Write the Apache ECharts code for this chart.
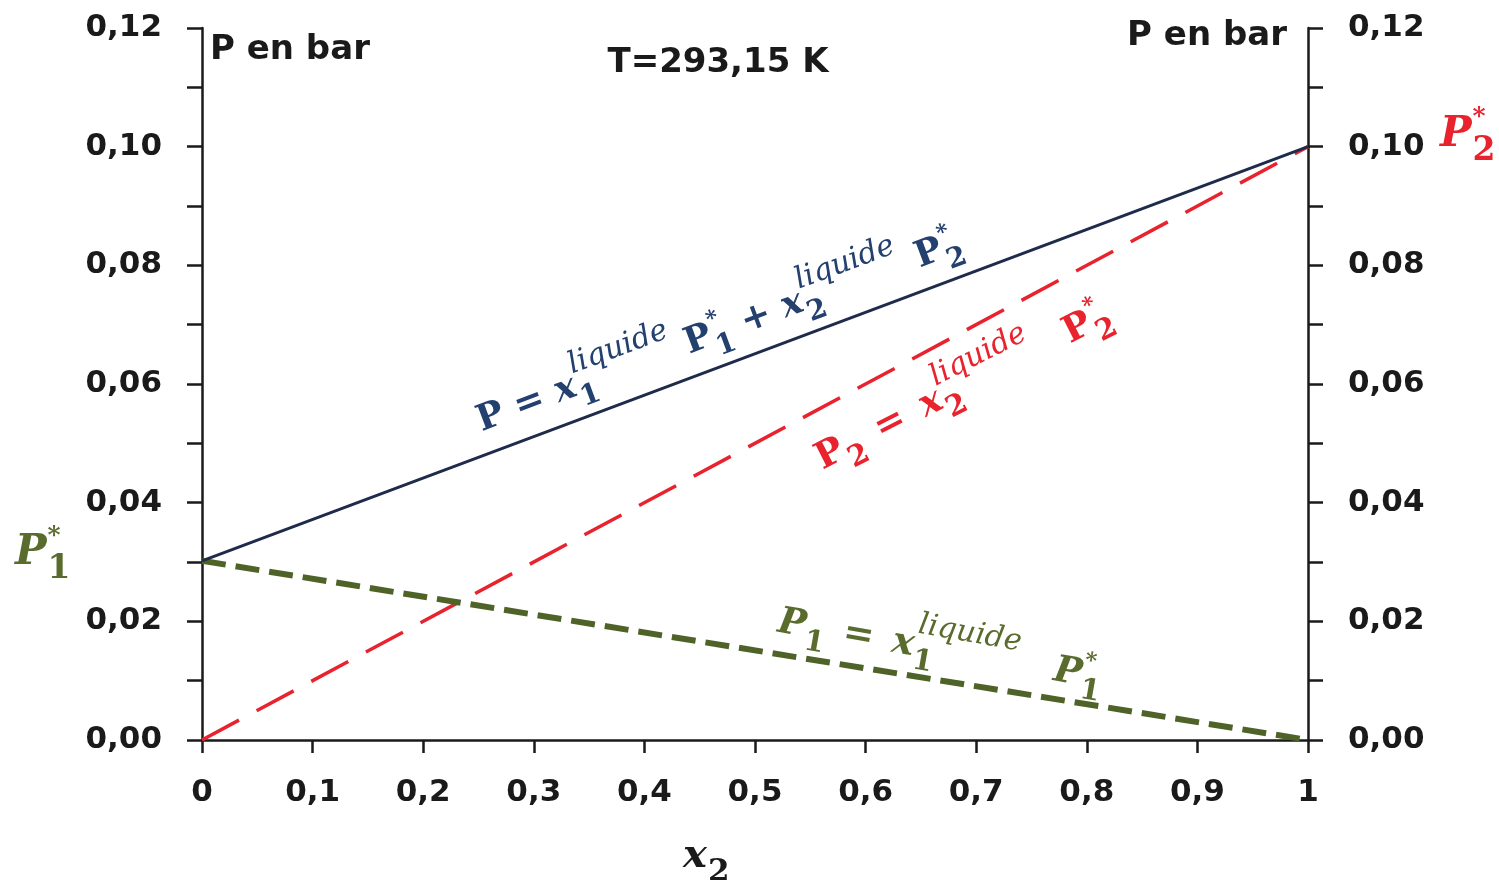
<!DOCTYPE html>
<html>
<head>
<meta charset="utf-8">
<title>P en bar - T=293,15 K</title>
<script src="https://cdn.jsdelivr.net/npm/echarts@6/dist/echarts.min.js"></script>
<style>
  html, body { margin: 0; padding: 0; background: #fff; }
  #chart { width: 1499px; height: 880px; }
</style>
</head>
<body>
<div id="chart"></div>
<script>
// fraction molaire x2 (liquide)
var x2 = [0, 1];
// pressions en bar
var pTotal = [0.0302, 0.1];   // P = x1 P1* + x2 P2*
var p1 = [0.0302, 0];         // P1 = x1 P1*
var p2 = [0, 0.1];            // P2 = x2 P2*

// where the formulas sit (data coords of their first letter) and their tilt
var blueAt = [0.25, 0.0535], blueRot = 20.5;
var redAt = [0.557, 0.047], redRot = 27;
var greenAt = [0.521, 0.0199], greenRot = -10;

var NAVY = '#1f2b4a', NAVY_TXT = '#23406e', RED = '#e8232e', GREEN = '#4f6228', GREEN_TXT = '#5a6b2e';
var INK = '#1a1a1a';

function pairs(xs, ys) {
  return xs.map(function (x, i) { return [x, ys[i]]; });
}
function commaFmt(d) {
  return function (v) {
    if (d === 1 && (v === 0 || v === 1)) return String(v);
    return v.toFixed(d).replace('.', ',');
  };
}

var chart = echarts.init(document.getElementById('chart'));

var tickLabel = { fontSize: 31, fontWeight: 'bold', fontFamily: 'DejaVu Sans', color: INK };
function yAxisOpt(pos) {
  return {
    type: 'value', position: pos, min: 0, max: 0.12, interval: 0.02,
    axisLine: { show: true, onZero: false, lineStyle: { color: INK, width: 2.5 } },
    axisTick: { show: true, length: 15, lineStyle: { color: INK, width: 2.5 } },
    minorTick: { show: true, splitNumber: 2, length: 15, lineStyle: { color: INK, width: 2.5 } },
    axisLabel: Object.assign({ margin: 40, formatter: commaFmt(2) }, tickLabel),
    splitLine: { show: false }
  };
}

chart.setOption({
  animation: false,
  grid: { left: 202, right: 191, top: 28, bottom: 140 },
  xAxis: {
    type: 'value', min: 0, max: 1, interval: 0.1,
    axisLine: { show: true, onZero: false, lineStyle: { color: INK, width: 2.5 } },
    axisTick: { show: true, length: 13, lineStyle: { color: INK, width: 2.5 } },
    axisLabel: Object.assign({ margin: 37, formatter: commaFmt(1) }, tickLabel),
    splitLine: { show: false }
  },
  yAxis: [yAxisOpt('left'), yAxisOpt('right')],
  series: [
    {
      name: 'P2', type: 'line', data: pairs(x2, p2), symbol: 'none',
      lineStyle: { color: RED, width: 3.5, type: [42, 20] }
    },
    {
      name: 'P1', type: 'line', data: pairs(x2, p1), symbol: 'none',
      lineStyle: { color: GREEN, width: 6, type: [24, 10] }
    },
    {
      name: 'P', type: 'line', data: pairs(x2, pTotal), symbol: 'none',
      lineStyle: { color: NAVY, width: 3 }
    }
  ]
});

// ---- formulas drawn as small groups of text pieces ----
var ctx = document.createElement('canvas').getContext('2d');
function measure(str, font) { ctx.font = font; return ctx.measureText(str).width; }

function fonts(size) {
  var s = Math.round(size * 0.82), st = Math.round(size * 0.6);
  return {
    up: 'bold ' + size + 'px "DejaVu Serif"',
    it: 'italic bold ' + size + 'px "DejaVu Serif"',
    smIt: 'italic ' + s + 'px "DejaVu Serif"',
    smUp: 'bold ' + Math.round(size * 0.78) + 'px "DejaVu Serif"',
    star: 'bold ' + st + 'px "DejaVu Serif"',
    supY: -size * 0.58,
    starY: -size * 0.4,
    subY: size * 0.4
  };
}

function piece(str, x, y, font, color) {
  return { type: 'text', x: x, y: y, style: { text: str, font: font, fill: color, align: 'left', verticalAlign: 'middle' } };
}

function formula(tokens, size, color) {
  var f = fonts(size), out = [], x = 0;
  tokens.forEach(function (tk) {
    if (tk.t != null) {
      var font = tk.i ? f.it : f.up;
      out.push(piece(tk.t, x, 0, font, color));
      x += measure(tk.t, font);
    } else {
      var w = 0;
      if (tk.sup) {
        var star = tk.sup === '*';
        var supFont = star ? f.star : f.smIt;
        out.push(piece(tk.sup, x + 1, star ? f.starY : f.supY, supFont, color));
        w = Math.max(w, measure(tk.sup, supFont) + 1);
      }
      if (tk.sub) {
        out.push(piece(tk.sub, x + 1, f.subY, f.smUp, color));
        w = Math.max(w, measure(tk.sub, f.smUp) + 1);
      }
      x += w;
    }
    x += tk.gap || 0;
  });
  return out;
}

var blueTokens = [
  { t: 'P = ' }, { t: 'x', i: 1 }, { sup: 'liquide', sub: '1' }, { t: ' P' }, { sup: '*', sub: '1' },
  { t: ' + ' }, { t: 'x', i: 1 }, { sup: 'liquide', sub: '2', gap: 4 }, { t: ' P' }, { sup: '*', sub: '2' }
];
var redTokens = [
  { t: 'P' }, { sub: '2', gap: 4 }, { t: ' = ', gap: 6 }, { t: 'x', i: 1 }, { sup: 'liquide', sub: '2', gap: 22 }, { t: ' P' }, { sup: '*', sub: '2' }
];
var greenTokens = [
  { t: 'P', i: 1 }, { sub: '1', gap: 4 }, { t: ' = ', gap: 6 }, { t: 'x', i: 1 }, { sup: 'liquide', sub: '1', gap: 24 }, { t: ' P', i: 1 }, { sup: '*', sub: '1' }
];

function px(pt) { return chart.convertToPixel({ xAxisIndex: 0, yAxisIndex: 0 }, pt); }
function group(pt, dx, dy, rotDeg, children) {
  var p = px(pt);
  return { type: 'group', x: p[0] + dx, y: p[1] + dy, rotation: rotDeg * Math.PI / 180, children: children };
}

var top0 = px([0, 0.12]), top1 = px([1, 0.12]);
var sans = 'bold 34px "DejaVu Sans"';

chart.setOption({
  graphic: [
    group(blueAt, 0, 0, blueRot, formula(blueTokens, 36, NAVY_TXT)),
    group(redAt, 0, 0, redRot, formula(redTokens, 37, RED)),
    group(greenAt, 0, 0, greenRot, formula(greenTokens, 37, GREEN_TXT)),
    group([0, pTotal[0]], -187, -8, 0, formula([{ t: 'P', i: 1 }, { sup: '*', sub: '1' }], 42, GREEN_TXT)),
    group([1, pTotal[1]], 132, -12, 0, formula([{ t: 'P', i: 1 }, { sup: '*', sub: '2' }], 42, RED)),
    group([0.435, 0], 0, 117, 0, formula([{ t: 'x', i: 1 }, { sub: '2' }], 40, INK)),
    { type: 'text', x: top0[0] + 8, y: top0[1] + 22, style: { text: 'P en bar', font: sans, fill: INK, align: 'left', verticalAlign: 'middle' } },
    { type: 'text', x: top1[0] - 21, y: top1[1] + 8, style: { text: 'P en bar', font: sans, fill: INK, align: 'right', verticalAlign: 'middle' } },
    { type: 'text', x: 718, y: top0[1] + 35, style: { text: 'T=293,15 K', font: sans, fill: INK, align: 'center', verticalAlign: 'middle' } }
  ]
});
</script>
</body>
</html>
